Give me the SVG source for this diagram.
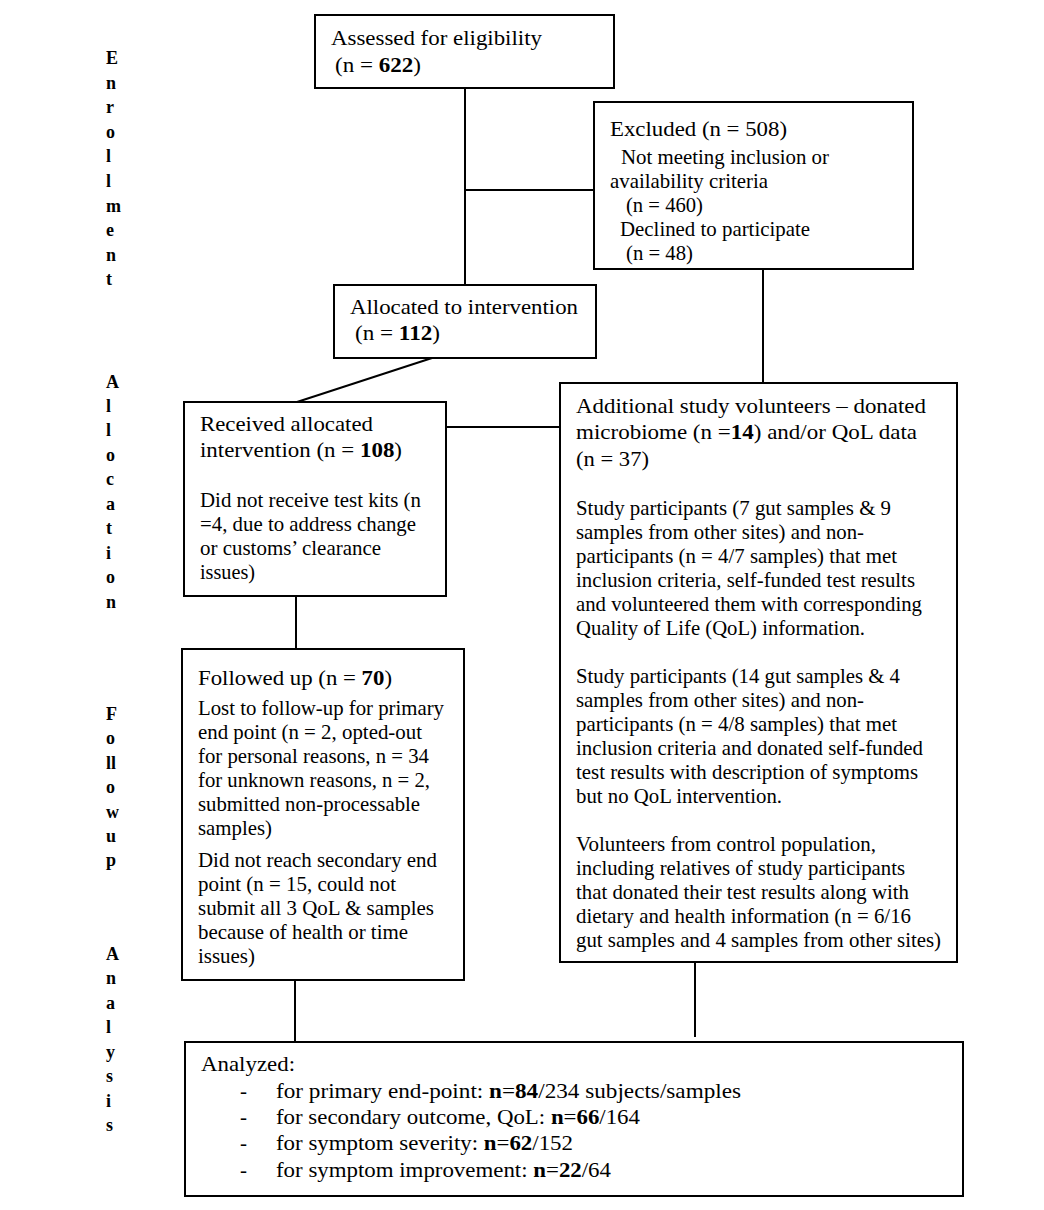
<svg xmlns="http://www.w3.org/2000/svg" width="1044" height="1210" viewBox="0 0 1044 1210">
<style>
.box{fill:#fff;stroke:#000;stroke-width:2}
.t{font-family:"Liberation Serif","Times New Roman",serif;font-size:21px;fill:#000}
.b{font-weight:bold}
.lab{font-family:"Liberation Serif","Times New Roman",serif;font-size:18px;font-weight:bold;fill:#000}
.c{stroke:#000;stroke-width:2;fill:none}
</style>
<rect width="1044" height="1210" fill="#fff"/>
<g id="connectors">
<line class="c" x1="465" y1="88" x2="465" y2="285"/>
<line class="c" x1="465" y1="190" x2="594" y2="190"/>
<line class="c" x1="763" y1="269" x2="763" y2="383" stroke-width="1.6"/>
<line class="c" x1="432" y1="358" x2="297" y2="402"/>
<line class="c" x1="446" y1="427" x2="560" y2="427"/>
<line class="c" x1="296" y1="596" x2="296" y2="649"/>
<line class="c" x1="295" y1="980" x2="295" y2="1042"/>
<line class="c" x1="695" y1="962" x2="695" y2="1037"/>
</g>
<g id="phase-labels" class="lab">
<text x="106" y="64">E</text><text x="106" y="89">n</text><text x="106" y="113">r</text><text x="106" y="138">o</text><text x="106" y="162">l</text><text x="106" y="187">l</text><text x="106" y="212">m</text><text x="106" y="236">e</text><text x="106" y="261">n</text><text x="106" y="285">t</text>
<text x="106" y="388">A</text><text x="106" y="412">l</text><text x="106" y="436">l</text><text x="106" y="461">o</text><text x="106" y="485">c</text><text x="106" y="510">a</text><text x="106" y="534">t</text><text x="106" y="559">i</text><text x="106" y="583">o</text><text x="106" y="608">n</text>
<text x="106" y="720">F</text><text x="106" y="744">o</text><text x="106" y="769">ll</text><text x="106" y="793">o</text><text x="106" y="818">w</text><text x="106" y="842">u</text><text x="106" y="866">p</text>
<text x="106" y="960">A</text><text x="106" y="984">n</text><text x="106" y="1009">a</text><text x="106" y="1033">l</text><text x="106" y="1058">y</text><text x="106" y="1082">s</text><text x="106" y="1107">i</text><text x="106" y="1131">s</text>
</g>
<g id="assessed">
<rect class="box" x="315" y="15" width="299" height="73"/>
<text class="t" x="331" y="45" textLength="211" lengthAdjust="spacingAndGlyphs">Assessed for eligibility</text>
<text class="t" x="335" y="72" textLength="86" lengthAdjust="spacingAndGlyphs">(n = <tspan class="b">622</tspan>)</text>
</g>
<g id="excluded">
<rect class="box" x="594" y="102" width="319" height="167"/>
<text class="t" x="610" y="136" textLength="177" lengthAdjust="spacingAndGlyphs">Excluded (n = 508)</text>
<text class="t" x="621" y="164" textLength="208" lengthAdjust="spacingAndGlyphs">Not meeting inclusion or</text>
<text class="t" x="610" y="188" textLength="158" lengthAdjust="spacingAndGlyphs">availability criteria</text>
<text class="t" x="626" y="212" textLength="77" lengthAdjust="spacingAndGlyphs">(n = 460)</text>
<text class="t" x="620" y="236" textLength="190" lengthAdjust="spacingAndGlyphs">Declined to participate</text>
<text class="t" x="626" y="260" textLength="67" lengthAdjust="spacingAndGlyphs">(n = 48)</text>
</g>
<g id="allocated">
<rect class="box" x="334" y="285" width="262" height="73"/>
<text class="t" x="350" y="314" textLength="228" lengthAdjust="spacingAndGlyphs">Allocated to intervention</text>
<text class="t" x="355" y="340" textLength="85" lengthAdjust="spacingAndGlyphs">(n = <tspan class="b">112</tspan>)</text>
</g>
<g id="received">
<rect class="box" x="184" y="402" width="262" height="194"/>
<text class="t" x="200" y="431" textLength="173" lengthAdjust="spacingAndGlyphs">Received allocated</text>
<text class="t" x="200" y="457" textLength="202" lengthAdjust="spacingAndGlyphs">intervention (n = <tspan class="b">108</tspan>)</text>
<text class="t" x="200" y="507" textLength="221" lengthAdjust="spacingAndGlyphs">Did not receive test kits (n</text>
<text class="t" x="200" y="531" textLength="216" lengthAdjust="spacingAndGlyphs">=4, due to address change</text>
<text class="t" x="200" y="555" textLength="181" lengthAdjust="spacingAndGlyphs">or customs’ clearance</text>
<text class="t" x="200" y="579" textLength="55" lengthAdjust="spacingAndGlyphs">issues)</text>
</g>
<g id="additional">
<rect class="box" x="560" y="383" width="397" height="579"/>
<text class="t" x="576" y="413" textLength="350" lengthAdjust="spacingAndGlyphs">Additional study volunteers – donated</text>
<text class="t" x="576" y="439" textLength="341" lengthAdjust="spacingAndGlyphs">microbiome (n =<tspan class="b">14</tspan>) and/or QoL data</text>
<text class="t" x="576" y="466" textLength="73" lengthAdjust="spacingAndGlyphs">(n = 37)</text>
<text class="t" x="576" y="515" textLength="315" lengthAdjust="spacingAndGlyphs">Study participants (7 gut samples &amp; 9</text>
<text class="t" x="576" y="539" textLength="288" lengthAdjust="spacingAndGlyphs">samples from other sites) and non-</text>
<text class="t" x="576" y="563" textLength="321" lengthAdjust="spacingAndGlyphs">participants (n = 4/7 samples) that met</text>
<text class="t" x="576" y="587" textLength="339" lengthAdjust="spacingAndGlyphs">inclusion criteria, self-funded test results</text>
<text class="t" x="576" y="611" textLength="346" lengthAdjust="spacingAndGlyphs">and volunteered them with corresponding</text>
<text class="t" x="576" y="635" textLength="289" lengthAdjust="spacingAndGlyphs">Quality of Life (QoL) information.</text>
<text class="t" x="576" y="683" textLength="324" lengthAdjust="spacingAndGlyphs">Study participants (14 gut samples &amp; 4</text>
<text class="t" x="576" y="707" textLength="288" lengthAdjust="spacingAndGlyphs">samples from other sites) and non-</text>
<text class="t" x="576" y="731" textLength="321" lengthAdjust="spacingAndGlyphs">participants (n = 4/8 samples) that met</text>
<text class="t" x="576" y="755" textLength="347" lengthAdjust="spacingAndGlyphs">inclusion criteria and donated self-funded</text>
<text class="t" x="576" y="779" textLength="342" lengthAdjust="spacingAndGlyphs">test results with description of symptoms</text>
<text class="t" x="576" y="803" textLength="206" lengthAdjust="spacingAndGlyphs">but no QoL intervention.</text>
<text class="t" x="576" y="851" textLength="300" lengthAdjust="spacingAndGlyphs">Volunteers from control population,</text>
<text class="t" x="576" y="875" textLength="329" lengthAdjust="spacingAndGlyphs">including relatives of study participants</text>
<text class="t" x="576" y="899" textLength="333" lengthAdjust="spacingAndGlyphs">that donated their test results along with</text>
<text class="t" x="576" y="923" textLength="335" lengthAdjust="spacingAndGlyphs">dietary and health information (n = 6/16</text>
<text class="t" x="576" y="947" textLength="365" lengthAdjust="spacingAndGlyphs">gut samples and 4 samples from other sites)</text>
</g>
<g id="followed">
<rect class="box" x="182" y="649" width="282" height="331"/>
<text class="t" x="198" y="685" textLength="194" lengthAdjust="spacingAndGlyphs">Followed up (n = <tspan class="b">70</tspan>)</text>
<text class="t" x="198" y="715" textLength="246" lengthAdjust="spacingAndGlyphs">Lost to follow-up for primary</text>
<text class="t" x="198" y="739" textLength="224" lengthAdjust="spacingAndGlyphs">end point (n = 2, opted-out</text>
<text class="t" x="198" y="763" textLength="231" lengthAdjust="spacingAndGlyphs">for personal reasons, n = 34</text>
<text class="t" x="198" y="787" textLength="232" lengthAdjust="spacingAndGlyphs">for unknown reasons, n = 2,</text>
<text class="t" x="198" y="811" textLength="222" lengthAdjust="spacingAndGlyphs">submitted non-processable</text>
<text class="t" x="198" y="835" textLength="74" lengthAdjust="spacingAndGlyphs">samples)</text>
<text class="t" x="198" y="867" textLength="239" lengthAdjust="spacingAndGlyphs">Did not reach secondary end</text>
<text class="t" x="198" y="891" textLength="198" lengthAdjust="spacingAndGlyphs">point (n = 15, could not</text>
<text class="t" x="198" y="915" textLength="236" lengthAdjust="spacingAndGlyphs">submit all 3 QoL &amp; samples</text>
<text class="t" x="198" y="939" textLength="210" lengthAdjust="spacingAndGlyphs">because of health or time</text>
<text class="t" x="198" y="963" textLength="57" lengthAdjust="spacingAndGlyphs">issues)</text>
</g>
<g id="analyzed">
<rect class="box" x="185" y="1042" width="778" height="154"/>
<text class="t" x="201" y="1071" textLength="94" lengthAdjust="spacingAndGlyphs">Analyzed:</text>
<text class="t" x="240" y="1098">-</text><text class="t" x="276" y="1098" textLength="465" lengthAdjust="spacingAndGlyphs">for primary end-point:  <tspan class="b">n</tspan>=<tspan class="b">84</tspan>/234 subjects/samples</text>
<text class="t" x="240" y="1124">-</text><text class="t" x="276" y="1124" textLength="364" lengthAdjust="spacingAndGlyphs">for secondary outcome, QoL: <tspan class="b">n</tspan>=<tspan class="b">66</tspan>/164</text>
<text class="t" x="240" y="1150">-</text><text class="t" x="276" y="1150" textLength="297" lengthAdjust="spacingAndGlyphs">for symptom severity: <tspan class="b">n</tspan>=<tspan class="b">62</tspan>/152</text>
<text class="t" x="240" y="1177">-</text><text class="t" x="276" y="1177" textLength="335" lengthAdjust="spacingAndGlyphs">for symptom improvement: <tspan class="b">n</tspan>=<tspan class="b">22</tspan>/64</text>
</g>
</svg>
